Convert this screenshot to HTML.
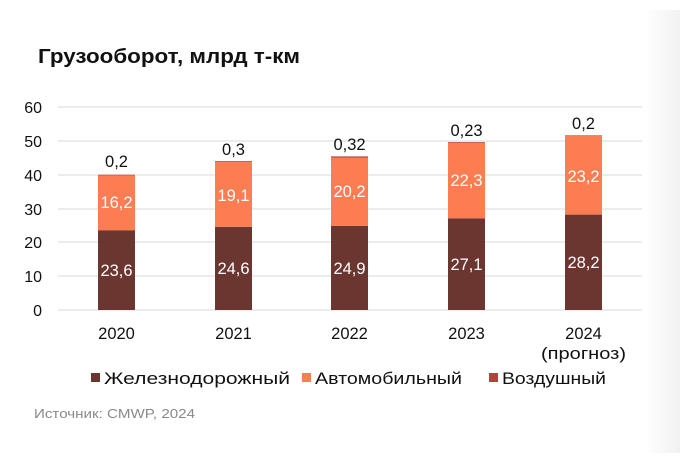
<!DOCTYPE html>
<html><head><meta charset="utf-8"><style>
body{margin:0;width:680px;height:453px;overflow:hidden;background:#fff;font-family:"Liberation Sans",sans-serif}
</style></head><body>
<svg width="680" height="453" xmlns="http://www.w3.org/2000/svg" font-family="Liberation Sans, sans-serif">
<defs><linearGradient id="g" x1="0" x2="1"><stop offset="0" stop-color="#fff"/><stop offset="1" stop-color="#f1f1f1"/></linearGradient></defs>
<rect x="645" y="10" width="35" height="443" fill="url(#g)"/>
<text x="38" y="63" font-size="20" font-weight="bold" fill="#111" textLength="262" lengthAdjust="spacingAndGlyphs">Грузооборот, млрд т-км</text>
<g stroke="#d9d9d9" stroke-width="1">
<line x1="58" x2="642" y1="107" y2="107"/><line x1="58" x2="642" y1="141" y2="141"/><line x1="58" x2="642" y1="175" y2="175"/><line x1="58" x2="642" y1="209" y2="209"/><line x1="58" x2="642" y1="242" y2="242"/><line x1="58" x2="642" y1="276" y2="276"/><line x1="58" x2="642" y1="310" y2="310"/>
</g>
<g font-size="16" fill="#111" text-anchor="end">
<text x="42" y="113">60</text><text x="42" y="147">50</text><text x="42" y="181">40</text><text x="42" y="215">30</text><text x="42" y="248">20</text><text x="42" y="282">10</text><text x="42" y="316">0</text>
</g>
<g>
<rect x="98" y="230.2" width="37" height="79.8" fill="#6b3530"/><rect x="98" y="175.4" width="37" height="54.8" fill="#fd7d53"/><rect x="98" y="174.7" width="37" height="0.7" fill="#b5413a"/>
<rect x="215" y="226.8" width="37" height="83.2" fill="#6b3530"/><rect x="215" y="162.2" width="37" height="64.6" fill="#fd7d53"/><rect x="215" y="161.2" width="37" height="1" fill="#b5413a"/>
<rect x="331" y="225.8" width="37" height="84.2" fill="#6b3530"/><rect x="331" y="157.5" width="37" height="68.3" fill="#fd7d53"/><rect x="331" y="156.4" width="37" height="1.1" fill="#b5413a"/>
<rect x="448" y="218.3" width="37" height="91.7" fill="#6b3530"/><rect x="448" y="142.9" width="37" height="75.4" fill="#fd7d53"/><rect x="448" y="142.1" width="37" height="0.8" fill="#b5413a"/>
<rect x="565" y="214.6" width="37" height="95.4" fill="#6b3530"/><rect x="565" y="136.1" width="37" height="78.5" fill="#fd7d53"/><rect x="565" y="135.4" width="37" height="0.7" fill="#b5413a"/>
</g>
<g font-size="16.5" fill="#fff" text-anchor="middle">
<text x="116.5" y="276">23,6</text><text x="116.5" y="208">16,2</text>
<text x="233.5" y="274">24,6</text><text x="233.5" y="201">19,1</text>
<text x="349.5" y="274">24,9</text><text x="349.5" y="197">20,2</text>
<text x="466.5" y="270">27,1</text><text x="466.5" y="186">22,3</text>
<text x="583.5" y="268">28,2</text><text x="583.5" y="182">23,2</text>
</g>
<g font-size="16.5" fill="#111" text-anchor="middle">
<text x="116.5" y="167">0,2</text><text x="233.5" y="155">0,3</text><text x="349.5" y="150">0,32</text><text x="466.5" y="136">0,23</text><text x="583.5" y="129">0,2</text>
<text x="116.5" y="339">2020</text><text x="233.5" y="339">2021</text><text x="349.5" y="339">2022</text><text x="466.5" y="339">2023</text><text x="583.5" y="339">2024</text><text x="583.5" y="359" textLength="85" lengthAdjust="spacingAndGlyphs">(прогноз)</text>
</g>
<g font-size="16.5" fill="#111">
<rect x="91" y="373" width="9" height="9" fill="#6b3530"/><text x="104" y="384" textLength="186" lengthAdjust="spacingAndGlyphs">Железнодорожный</text>
<rect x="302" y="373" width="9" height="9" fill="#fd7d53"/><text x="315" y="384" textLength="147" lengthAdjust="spacingAndGlyphs">Автомобильный</text>
<rect x="489" y="373" width="9" height="9" fill="#b5413a"/><text x="502" y="384" textLength="104" lengthAdjust="spacingAndGlyphs">Воздушный</text>
</g>
<text x="34" y="418" font-size="13" fill="#8a8a8a" textLength="161" lengthAdjust="spacingAndGlyphs">Источник: CMWP, 2024</text>
</svg>
</body></html>
